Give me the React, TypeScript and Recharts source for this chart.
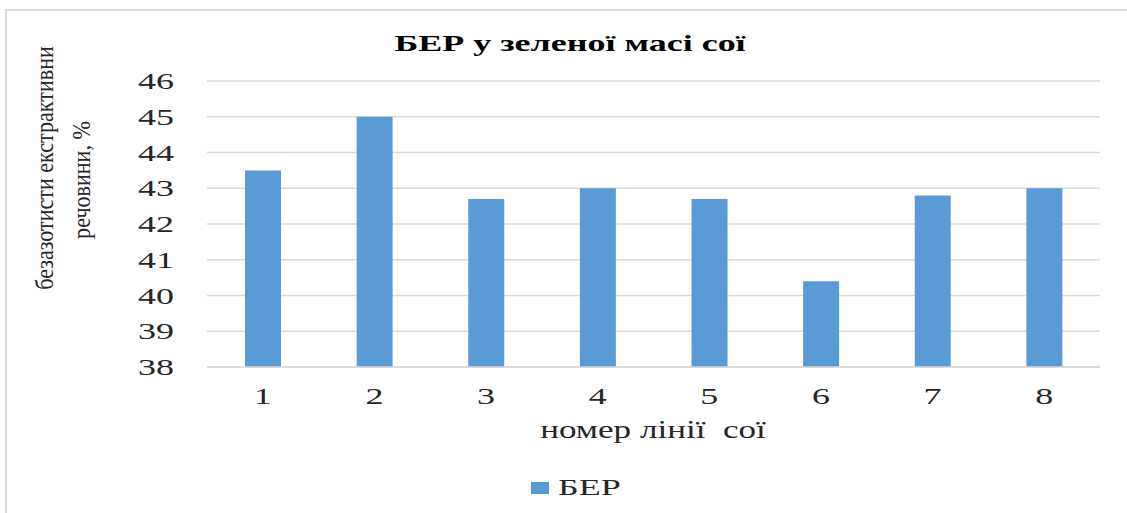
import React from "react";
import { BarChart, Bar, XAxis, YAxis, CartesianGrid, Legend } from "recharts";

// номери ліній сої та вміст БЕР, %
const lineNumbers = ["1", "2", "3", "4", "5", "6", "7", "8"];
const berValues = [43.5, 45.0, 42.7, 43.0, 42.7, 40.4, 42.8, 43.0];
const yTicks = [38, 39, 40, 41, 42, 43, 44, 45, 46];

const data = lineNumbers.map((line, i) => ({ line, ber: berValues[i] }));

const FONT =
  "'Liberation Serif', 'Times New Roman', Times, Tinos, 'Nimbus Roman', 'Noto Serif', 'DejaVu Serif', FreeSerif, serif";
const GRID = "#d9d9d9";
const BAR = "#5b9bd5";
const SX = 1.5; // the source picture is stretched horizontally

const serif = { fontFamily: FONT };

function YTick(props: any) {
  const { y, payload } = props;
  return (
    <text
      transform={`translate(174,${y + 8}) scale(${SX},1)`}
      textAnchor="end"
      style={serif}
      fontSize={24}
      fill="#262626"
    >
      {payload.value}
    </text>
  );
}

function XTick(props: any) {
  const { x, payload } = props;
  return (
    <text
      transform={`translate(${x},404) scale(${SX},1)`}
      textAnchor="middle"
      style={serif}
      fontSize={24}
      fill="#262626"
    >
      {payload.value}
    </text>
  );
}

function LegendBox() {
  return (
    <svg width={1127} height={40} style={{ display: "block" }}>
      <rect x={531} y={14} width={18} height={12} fill={BAR} />
      <text
        transform={`translate(558,27) scale(${SX},1)`}
        style={serif}
        fontSize={24}
        fill="#262626"
      >
        БЕР
      </text>
    </svg>
  );
}

export default function App() {
  return (
    <div
      style={{
        position: "absolute",
        left: 0,
        top: 0,
        width: 1127,
        height: 513,
        overflow: "hidden",
        background: "#fff",
      }}
    >
      <div
        style={{
          position: "absolute",
          left: 5,
          top: 9,
          width: 1200,
          height: 600,
          border: `2px solid ${GRID}`,
        }}
      />
      <BarChart
        width={1127}
        height={513}
        data={data}
        margin={{ top: 81, right: 27, left: 107, bottom: 6 }}
        style={{ position: "absolute", left: 0, top: 0 }}
      >
        <CartesianGrid vertical={false} stroke={GRID} strokeWidth={1.5} />
        <XAxis
          dataKey="line"
          height={100}
          tickLine={false}
          axisLine={{ stroke: GRID, strokeWidth: 1.5 }}
          tick={<XTick />}
          interval={0}
        />
        <YAxis
          width={100}
          domain={[38, 46]}
          ticks={yTicks}
          interval={0}
          axisLine={false}
          tickLine={false}
          tick={<YTick />}
        />
        <Legend verticalAlign="bottom" content={<LegendBox />} wrapperStyle={{ top: 468, bottom: "auto", left: 0, width: 1127 }} />
        <Bar dataKey="ber" name="БЕР" fill={BAR} barSize={36} isAnimationActive={false} />
        <text
          transform={`translate(570,51) scale(${SX},1)`}
          textAnchor="middle"
          style={serif}
          fontSize={24}
          fontWeight="bold"
          fill="#000"
        >
          БЕР у зеленої масі сої
        </text>
        <text
          transform={`translate(653,438) scale(1.35,1)`}
          textAnchor="middle"
          style={{ ...serif, whiteSpace: "pre" }}
          fontSize={26}
          fill="#262626"
        >
          {"номер лінії  сої"}
        </text>
        <text
          transform="translate(53,168) rotate(-90) scale(0.85,1)"
          textAnchor="middle"
          style={serif}
          fontSize={26}
          fill="#262626"
        >
          безазотисти екстрактивни
        </text>
        <text
          transform="translate(90,180) rotate(-90) scale(0.85,1)"
          textAnchor="middle"
          style={serif}
          fontSize={26}
          fill="#262626"
        >
          речовини, %
        </text>
      </BarChart>
    </div>
  );
}
